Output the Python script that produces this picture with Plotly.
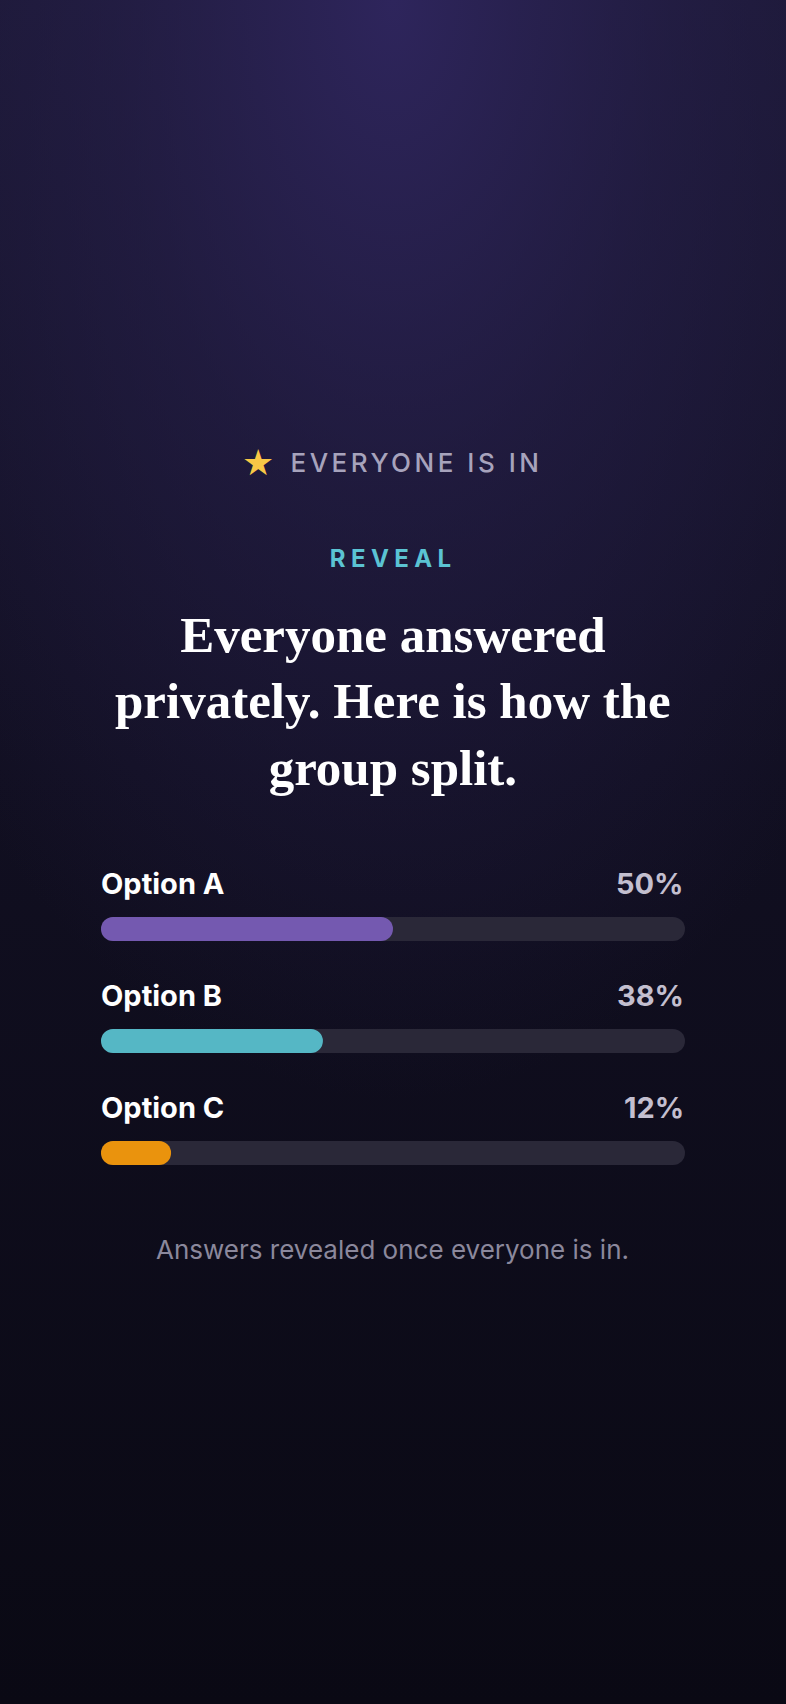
import plotly.graph_objects as go

W, H = 786, 1704

# ---- data ----
options = ["Option A", "Option B", "Option C"]
percents = [50, 38, 12]
pct_labels = ["50%", "38%", "12%"]
bar_colors = ["#7459b0", "#55b7c5", "#ea930d"]
full_scale = 100

eyebrow = "EVERYONE IS IN"
kicker = "REVEAL"
title_lines = ["Everyone answered", "privately. Here is how the", "group split."]
footer = "Answers revealed once everyone is in."

fig = go.Figure()

# ---- background: vertical gradient + top glow ----
fig.add_trace(go.Scatter(
    x=[0, W, W, 0, 0], y=[0, 0, H, H, 0], fill="toself", mode="none",
    fillgradient=dict(type="vertical",
                      colorscale=[[0, "#0a0914"], [0.55, "#110f21"], [1, "#1a1732"]]),
    hoverinfo="skip", showlegend=False, xaxis="x", yaxis="y"))
fig.add_trace(go.Scatter(
    x=[W / 2 - 620, W / 2 + 620, W / 2 + 620, W / 2 - 620, W / 2 - 620],
    y=[-1100, -1100, 1100, 1100, -1100], fill="toself", mode="none",
    fillgradient=dict(type="radial",
                      colorscale=[[0, "rgba(46,37,92,1)"], [0.45, "rgba(42,34,82,0.5)"],
                                  [1, "rgba(40,32,78,0)"]]),
    hoverinfo="skip", showlegend=False, xaxis="x", yaxis="y"))

# ---- bars ----
track_color = "#2a2838"
fig.add_trace(go.Bar(y=options, x=[full_scale] * 3, base=[0] * 3, orientation="h",
                     marker=dict(color=track_color, cornerradius=12, line=dict(width=0)),
                     width=24 / 112, hoverinfo="skip", showlegend=False,
                     xaxis="x2", yaxis="y2"))
fig.add_trace(go.Bar(y=options, x=percents, base=[0] * 3, orientation="h",
                     marker=dict(color=bar_colors, cornerradius=12, line=dict(width=0)),
                     width=24 / 112, hoverinfo="skip", showlegend=False,
                     xaxis="x2", yaxis="y2"))

annotations = []
for opt, lab in zip(options, pct_labels):
    annotations.append(dict(x=0, y=opt, xref="x2", yref="y2", text=opt, showarrow=False,
                            xanchor="left", yanchor="middle", yshift=46, xshift=-2,
                            font=dict(family="Inter", size=29, color="#ffffff", weight=700)))
    annotations.append(dict(x=full_scale, y=opt, xref="x2", yref="y2", text=lab, showarrow=False,
                            xanchor="right", yanchor="middle", yshift=46, xshift=1,
                            font=dict(family="Inter", size=29, color="#c3bfcf", weight=700)))

# header texts
annotations.append(dict(x=258, y=462, xref="x", yref="y", text="★", showarrow=False,
                        xanchor="center", yanchor="middle",
                        font=dict(family="DejaVu Sans", size=36, color="#f8c846")))
annotations.append(dict(x=416.2, y=462, xref="x", yref="y", text=eyebrow, showarrow=False,
                        xanchor="center", yanchor="middle",
                        font=dict(family="Inter", size=26, color="#a7a3bc", weight=500)))
annotations.append(dict(x=393.0, y=558, xref="x", yref="y", text=kicker, showarrow=False,
                        xanchor="center", yanchor="middle",
                        font=dict(family="Inter", size=24, color="#5bc3d3", weight=700)))
annotations.append(dict(x=393, y=701, xref="x", yref="y", text="<br>".join(title_lines),
                        showarrow=False, xanchor="center", yanchor="middle", align="center",
                        font=dict(family="Liberation Serif", size=51, color="#ffffff", weight=700)))
annotations.append(dict(x=392, y=1249, xref="x", yref="y", text=footer, showarrow=False,
                        xanchor="center", yanchor="middle",
                        font=dict(family="Inter", size=26, color="#8b889c")))

fig.update_layout(
    width=W, height=H, margin=dict(l=0, r=0, t=0, b=0),
    paper_bgcolor="#0b0a16", plot_bgcolor="rgba(0,0,0,0)",
    barmode="overlay", showlegend=False,
    xaxis=dict(range=[0, W], domain=[0, 1], visible=False, fixedrange=True),
    yaxis=dict(range=[H, 0], domain=[0, 1], visible=False, fixedrange=True),
    xaxis2=dict(range=[0, full_scale], domain=[101 / W, 685 / W], visible=False,
                anchor="y2", fixedrange=True),
    yaxis2=dict(type="category", categoryorder="array", categoryarray=options,
                range=[2.5, -0.5], domain=[1 - 1209 / H, 1 - 873 / H], visible=False,
                anchor="x2", fixedrange=True),
    annotations=annotations,
)

post_script = """
document.body.style.margin = '0';
document.body.style.background = '#0b0a16';
document.documentElement.style.overflow = 'hidden';
var gd = document.getElementById('{plot_id}');
function applySpacing(){
  gd.querySelectorAll('text.annotation-text').forEach(function(t){
    var s = t.textContent;
    if(s === 'EVERYONE IS IN'){ t.style.letterSpacing = '3.5px'; }
    if(s === 'REVEAL'){ t.style.letterSpacing = '5.4px'; }
  });
}
applySpacing();
gd.on('plotly_afterplot', applySpacing);
"""

fig.write_html("out.html", config={"displayModeBar": False, "staticPlot": True},
               post_script=post_script)
